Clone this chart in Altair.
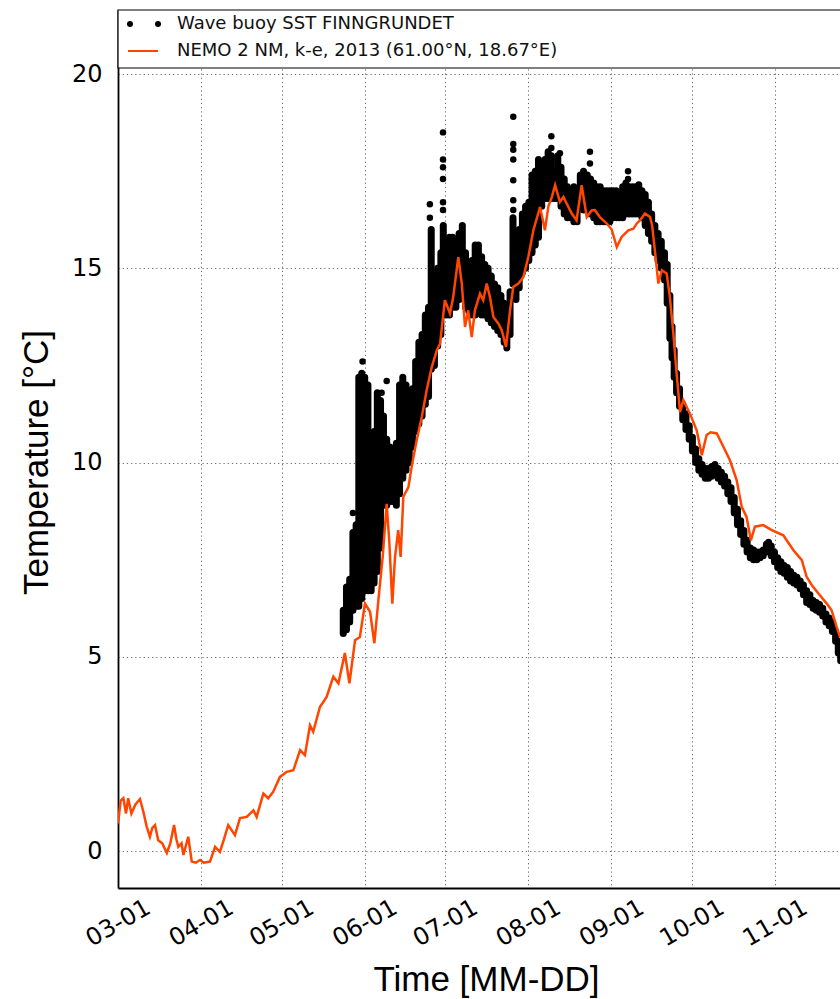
import altair as alt
import pandas as pd

START = pd.Timestamp("2013-03-01")

BUOY_LABEL = "Wave buoy SST FINNGRUNDET"
NEMO_LABEL = "NEMO 2 NM, k-e, 2013 (61.00°N, 18.67°E)"

# ---- NEMO model SST (days after 2013-03-01, °C)
nemo_day = [0, 1.0, 2.0, 3.0, 3.8, 5.0, 6.5, 8.2, 9.5, 10.7, 11.9, 12.8, 13.8, 15.0, 16.5,
            18.2, 19.5, 20.9, 21.8, 22.5, 23.7, 24.4, 26.2, 27.5, 29.0, 30.6, 32.0, 34.3,
            36.2, 38.0, 39.5, 41.1, 43.6, 45.5, 48.0, 50.5, 51.7, 54.2, 56.0, 57.9, 60.4,
            62.9, 65.4, 67.9, 69.7, 71.6, 72.8, 75.3, 77.8, 80.3, 82.2, 84.6, 86.3, 88.4,
            90.2, 92.1, 94.0, 95.6, 97.1, 98.7, 100.2, 101.2, 102.3, 103.3, 104.5, 105.4,
            106.4, 108.3, 109.5, 111.4, 113.3, 115.1, 117.0, 118.9, 120.1, 121.9, 123.8,
            125.0, 126.9, 128.2, 129.4, 130.6, 131.9, 133.1, 135.0, 136.2, 137.5, 138.7,
            140.0, 141.8, 143.1, 144.7, 146.2, 147.4, 149.3, 151.2, 153.0, 154.9, 157.4,
            159.2, 160.5, 161.8, 163.0, 164.8, 166.1, 167.3, 169.2, 171.0, 172.9, 174.8,
            176.6, 177.8, 179.7, 182.2, 184.1, 186.0, 187.8, 190.3, 192.2, 193.4, 194.7,
            196.5, 198.4, 199.2, 200.3, 201.5, 202.8, 204.6, 205.8, 207.1, 208.3, 209.6,
            210.8, 213.3, 215.8, 217.7, 219.5, 221.0, 223.3, 225.8, 228.2, 230.7, 232.6,
            234.4, 236.0, 237.5, 240.6, 243.8, 248.1, 251.8, 255.0, 256.8, 258.7, 261.2,
            264.3, 266.1, 268.0, 269.3]
nemo_val = [0.71, 1.3, 1.36, 0.97, 1.36, 0.97, 1.2, 1.34, 1.0, 0.63, 0.37, 0.6, 0.67, 0.28, 0.2,
            -0.05, 0.2, 0.67, 0.3, 0.11, 0.2, -0.1, 0.37, -0.27, -0.3, -0.23, -0.3, -0.27,
            0.11, -0.02, 0.3, 0.67, 0.41, 0.85, 0.88, 1.05, 0.88, 1.48, 1.36, 1.53, 1.91,
            2.04, 2.08, 2.6, 2.47, 3.24, 3.07, 3.71, 3.97, 4.49, 4.32, 5.1, 4.32, 5.43,
            5.51, 6.37, 6.16, 5.35, 6.46, 7.57, 8.94, 7.92, 6.37, 7.57, 8.26, 7.57,
            9.12, 9.37, 9.89, 10.58, 11.18, 11.86, 12.46, 12.89, 13.06, 14.18, 13.84,
            14.26, 15.29, 14.61, 13.49, 13.92, 13.23, 13.92, 14.35, 14.18, 14.61, 14.26,
            13.75, 13.58, 13.41, 12.98, 13.92, 14.52, 14.61, 14.78, 15.29, 15.98, 16.58,
            15.98, 16.6, 16.84, 17.14, 16.71, 16.84, 16.67, 16.41, 16.24, 17.14, 16.32,
            16.49, 16.5, 16.32, 16.16, 16.0, 15.55, 15.81, 15.98, 16.02, 16.15, 16.24,
            16.41, 16.32, 16.1, 15.4, 14.61, 14.95, 14.87, 14.26, 13.32, 12.3, 11.3,
            11.61, 11.26, 10.83, 10.19, 10.71, 10.78, 10.75, 10.4, 10.06, 9.55, 8.86,
            8.6, 8.0, 8.35, 8.39, 8.26, 8.13, 7.75, 7.49, 7.06, 6.85, 6.63,
            6.37, 6.2, 5.77, 5.5]

# ---- Wave buoy SST: per-sample low / high readings (days after 2013-03-01, °C)
buoy_day = [84.0, 85.2, 86.4, 87.6, 88.8, 89.8, 90.9, 92.0, 93.2, 94.4, 95.5, 96.7, 97.9, 99.0,
            100.2, 101.4, 102.6, 103.8, 105.0, 106.2, 107.4, 108.6, 109.8, 111.0, 112.2, 113.4,
            114.6, 115.8, 116.8, 118.0, 119.2, 120.4, 121.3, 122.4, 123.6, 124.8, 126.0, 127.2,
            128.4, 129.6, 130.8, 132.0, 133.2, 134.4, 135.6, 136.8, 138.0, 139.2, 140.4, 141.6,
            142.8, 144.0, 145.0, 146.2, 147.3, 148.4, 149.6, 150.8, 152.0, 153.2, 154.4, 155.6,
            156.8, 158.0, 159.2, 160.4, 161.6, 162.8, 164.0, 165.2, 166.4, 167.6, 168.8, 170.0,
            171.2, 172.4, 173.6, 175.0, 176.2, 177.4, 178.6, 179.8, 181.0, 182.2, 183.4, 184.6,
            185.8, 187.0, 188.2, 189.4, 190.6, 191.8, 193.0, 194.2, 195.4, 196.6, 197.8, 199.0,
            200.2, 201.4, 202.6, 203.8, 204.8, 205.8, 206.6, 207.4, 208.3, 209.4, 210.6, 211.8,
            213.0, 214.2, 215.4, 216.6, 217.8, 219.0, 220.2, 221.4, 222.6, 223.8, 225.0, 226.2,
            227.4, 228.6, 229.8, 231.0, 232.2, 233.4, 234.6, 235.8, 237.0, 238.2, 239.4, 240.6,
            241.8, 242.6, 243.6, 244.8, 246.0, 247.2, 248.4, 249.6, 250.8, 252.0, 253.2, 254.4,
            255.6, 256.8, 258.0, 259.2, 260.4, 261.6, 262.8, 264.0, 265.2, 266.4, 267.6, 268.6,
            269.5]
buoy_lo = [5.6, 5.7, 5.9, 6.2, 6.3, 6.3, 6.5, 6.7, 6.7, 6.7, 6.9, 7.2, 7.8, 8.9,
           8.9, 9.0, 9.0, 8.9, 9.2, 9.6, 9.8, 10.0, 10.4, 10.8, 11.0, 11.2,
           11.5, 11.7, 12.4, 12.5, 13.0, 13.3, 14.6, 13.8, 13.8, 14.0, 14.0, 14.2,
           14.5, 14.0, 13.9, 13.8, 13.8, 14.0, 13.8, 13.8, 13.7, 13.6, 13.5, 13.4,
           13.3, 13.1, 12.95, 13.3, 14.6, 14.2, 14.5, 14.9, 15.0, 15.2, 15.4, 15.6,
           15.8, 16.6, 16.8, 16.8, 16.8, 16.8, 16.8, 16.6, 16.4, 16.3, 16.3, 16.2,
           16.2, 16.6, 16.5, 16.5, 16.4, 16.3, 16.2, 16.2, 16.2, 16.2, 16.2, 16.3,
           16.3, 16.3, 16.3, 16.4, 16.4, 16.4, 16.4, 16.4, 16.3, 16.1, 15.9, 15.7,
           15.4, 15.2, 15.0, 14.7, 14.1, 13.2, 12.7, 12.2, 11.8, 11.45, 11.1, 10.85,
           10.6, 10.3, 10.0, 9.8, 9.7, 9.6, 9.6, 9.65, 9.7, 9.6, 9.5, 9.4,
           9.2, 9.0, 8.7, 8.4, 8.15, 7.9, 7.7, 7.55, 7.5, 7.5, 7.55, 7.6,
           7.7, 7.8, 7.6, 7.45, 7.3, 7.2, 7.15, 7.05, 6.95, 6.9, 6.85, 6.75,
           6.6, 6.4, 6.35, 6.25, 6.2, 6.15, 6.05, 5.9, 5.8, 5.65, 5.4, 5.1,
           4.9]
buoy_hi = [6.2, 6.8, 7.0, 8.2, 8.4, 12.2, 12.3, 12.2, 12.0, 9.6, 10.8, 11.8, 11.6, 11.2,
           10.6, 10.4, 10.2, 10.5, 12.0, 12.2, 12.0, 11.6, 11.9, 12.6, 13.1, 13.3,
           13.8, 14.0, 16.0, 14.8, 15.0, 15.4, 16.1, 15.6, 15.8, 15.8, 15.5, 15.9,
           16.1, 15.4, 15.0, 15.2, 15.6, 15.6, 15.3, 15.1, 15.0, 14.8, 14.6, 14.5,
           14.3, 14.1, 13.8, 14.4, 16.3, 15.8, 16.0, 16.4, 16.6, 16.7, 17.4, 17.5,
           17.8, 17.6, 17.8, 18.0, 17.9, 17.5, 17.9, 17.6, 17.3, 17.1, 17.0, 17.1,
           16.9, 17.4, 17.5, 17.4, 17.3, 17.2, 17.1, 17.1, 17.0, 17.0, 17.0, 17.0,
           17.0, 16.9, 17.1, 17.2, 17.1, 17.1, 17.1, 17.15, 17.0, 16.9, 16.7, 16.4,
           16.1, 15.9, 15.7, 15.4, 15.1, 14.3, 13.5, 12.9, 12.3, 11.9, 11.5, 11.25,
           10.95, 10.65, 10.35, 10.1, 9.95, 9.85, 9.85, 9.9, 9.95, 9.85, 9.75, 9.65,
           9.5, 9.35, 9.1, 8.8, 8.5, 8.25, 8.0, 7.8, 7.75, 7.7, 7.7, 7.75,
           7.9, 7.95, 7.85, 7.7, 7.55, 7.45, 7.35, 7.3, 7.2, 7.1, 7.05, 6.95,
           6.85, 6.7, 6.6, 6.45, 6.4, 6.35, 6.25, 6.1, 6.0, 5.9, 5.65, 5.4,
           5.1]

# ---- isolated buoy readings above the main band
spike_day = [87.6, 91.2, 98.3, 100.2, 116.3, 116.3, 121.2, 121.2, 121.2, 121.2, 121.2, 121.2,
             147.4, 147.4, 147.4, 147.4, 147.4, 147.4, 147.4, 161.6, 161.6, 164.8, 176.0, 176.0,
             190.2, 190.2]
spike_val = [8.7, 12.6, 11.8, 12.1, 16.3, 16.65, 16.5, 16.7, 17.3, 17.6, 17.8, 18.5,
             16.5, 16.75, 17.27, 17.8, 18.05, 18.2, 18.9, 18.1, 18.4, 17.96, 17.7, 18.0,
             17.3, 17.5]

tick_months = [3, 4, 5, 6, 7, 8, 9, 10, 11]
y_ticks = [0, 5, 10, 15, 20]


def to_dates(days):
    return [START + pd.Timedelta(days=d) for d in days]


nemo_df = pd.DataFrame({"time": to_dates(nemo_day), "sst": nemo_val, "series": NEMO_LABEL})
buoy_df = pd.DataFrame({"time": to_dates(buoy_day), "lo": buoy_lo, "hi": buoy_hi, "series": BUOY_LABEL})
spike_df = pd.DataFrame({"time": to_dates(spike_day), "sst": spike_val, "series": BUOY_LABEL})

W, H = 722, 878
ORANGE = "#ff4500"

x_scale = alt.Scale(domain=[alt.DateTime(year=2013, month=3, date=1),
                            alt.DateTime(year=2013, month=11, date=25, hours=5, minutes=45)])
y_scale = alt.Scale(domain=[-0.95, 21.65], nice=False, zero=False)

x_axis = alt.Axis(values=[alt.DateTime(year=2013, month=m, date=1) for m in tick_months],
                  format="%m-%d", labelAngle=-30, labelAlign="center", labelBaseline="middle",
                  labelPadding=35, labelFlush=False, labelOverlap=False, ticks=False, tickSize=0,
                  grid=True, title="Time [MM-DD]", titleX=368, titleY=102,
                  titleAlign="center", titleBaseline="alphabetic")
y_axis = alt.Axis(values=y_ticks, labelPadding=16, ticks=False, tickSize=0, grid=True,
                  labelFlush=False, title="Temperature [°C]", titleAngle=270, titleX=-71,
                  titleY=452, titleAlign="center", titleBaseline="alphabetic")

band = alt.Chart(buoy_df).mark_rule(color="black", strokeWidth=7, strokeCap="round", clip=True).encode(
    x=alt.X("time:T", scale=x_scale, axis=x_axis),
    y=alt.Y("lo:Q", scale=y_scale, axis=y_axis),
    y2="hi:Q",
)
spikes = alt.Chart(spike_df).mark_circle(color="black", size=42, opacity=1, clip=True).encode(
    x="time:T", y="sst:Q")
nemo = alt.Chart(nemo_df).mark_line(color=ORANGE, strokeWidth=2.5, clip=True).encode(
    x="time:T", y="sst:Q")

# ---- legend (full-width framed box at the top of the axes)
one = pd.DataFrame({"k": [0]})
box = alt.Chart(one).mark_rect(fill="white", stroke="black", strokeWidth=1.2).encode(
    x=alt.value(0), x2=alt.value(760), y=alt.value(0), y2=alt.value(58))
dot1 = alt.Chart(one).mark_circle(color="black", size=36, opacity=1).encode(
    x=alt.value(12), y=alt.value(14))
dot2 = alt.Chart(one).mark_circle(color="black", size=36, opacity=1).encode(
    x=alt.value(40), y=alt.value(14))
leg_line = alt.Chart(one).mark_rule(color=ORANGE, strokeWidth=2).encode(
    x=alt.value(10), x2=alt.value(40), y=alt.value(41))
leg_text1 = alt.Chart(pd.DataFrame({"label": [BUOY_LABEL]})).mark_text(
    align="left", baseline="middle", font="DejaVu Sans", fontSize=18, color="#111").encode(
    x=alt.value(59), y=alt.value(14), text="label:N")
leg_text2 = alt.Chart(pd.DataFrame({"label": [NEMO_LABEL]})).mark_text(
    align="left", baseline="middle", font="DejaVu Sans", fontSize=18, color="#111").encode(
    x=alt.value(59), y=alt.value(41), text="label:N")

chart = alt.layer(band, spikes, nemo, box, dot1, dot2, leg_line, leg_text1, leg_text2).properties(
    width=W, height=H,
    autosize=alt.AutoSizeParams(type="none"),
    padding={"left": 118, "top": 10, "right": 0, "bottom": 111},
).configure_view(stroke=None).configure_axis(
    gridColor="#000", gridOpacity=0.6, gridDash=[1.2, 3], gridWidth=1,
    domainColor="#000", domainWidth=1.8,
    labelFont="DejaVu Sans", labelFontSize=24, labelColor="#000",
    titleFont="Liberation Sans", titleFontSize=35, titleFontWeight="normal", titleColor="#000",
)

chart.save("out.html", embed_options={"renderer": "svg", "actions": False})
